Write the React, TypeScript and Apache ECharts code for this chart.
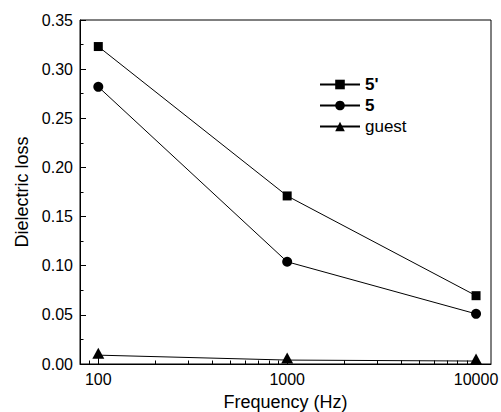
import React, { useEffect, useRef } from "react";
import * as echarts from "echarts";

const frequencies = [100, 1000, 10000];
const series5Prime = [0.323, 0.171, 0.0695];
const series5 = [0.282, 0.104, 0.051];
const seriesGuest = [0.009, 0.004, 0.003];
const xMajorTicks = [100, 1000, 10000];
const xMinorTicks = [90, 200, 300, 400, 500, 600, 700, 800, 900, 2000, 3000, 4000, 5000, 6000, 7000, 8000, 9000];
const legendNames = ["5'", "5", "guest"];

const FONT = "'Liberation Sans', Arial, sans-serif";

export default function App() {
  const ref = useRef<HTMLDivElement>(null);
  useEffect(() => {
    if (!ref.current) return;
    const chart = echarts.init(ref.current, null, { renderer: "svg" });
    const pts = (ys: number[]) => frequencies.map((f, i) => [f, ys[i]]);
    chart.setOption({
      animation: false,
      backgroundColor: "#fff",
      textStyle: { fontFamily: FONT, color: "#000" },
      grid: {
        left: 80,
        top: 20,
        right: 10,
        bottom: 48,
        outerBoundsMode: "none",
        containLabel: false,
        show: true,
        borderColor: "#000",
        borderWidth: 1,
        backgroundColor: "transparent",
      },
      legend: {
        orient: "vertical",
        left: 319,
        top: 76,
        padding: 0,
        itemWidth: 40,
        itemHeight: 12,
        itemGap: 4,
        textStyle: { fontSize: 17, color: "#000", fontFamily: FONT },
        data: [
          { name: legendNames[0], textStyle: { fontWeight: "bold" } },
          { name: legendNames[1], textStyle: { fontWeight: "bold" } },
          { name: legendNames[2] },
        ],
      },
      xAxis: [
        {
          type: "log",
          logBase: 10,
          min: 80,
          max: 12000,
          position: "bottom",
          name: "Frequency (Hz)",
          nameLocation: "middle",
          nameGap: 29,
          nameTextStyle: { fontSize: 18, color: "#000", fontFamily: FONT },
          axisLine: { show: true, onZero: false, lineStyle: { color: "#000", width: 1 } },
          axisTick: { show: true, inside: true, length: 6, customValues: xMajorTicks, lineStyle: { color: "#000", width: 1 } },
          axisLabel: {
            show: true,
            customValues: xMajorTicks,
            fontSize: 16,
            color: "#000",
            margin: 7,
            fontFamily: FONT,
            formatter: (v: number) => String(Math.round(v)),
          },
          splitLine: { show: false },
          minorTick: { show: false },
        },
        {
          type: "log",
          logBase: 10,
          min: 80,
          max: 12000,
          position: "bottom",
          axisLine: { show: false, onZero: false },
          axisTick: { show: true, inside: true, length: 3.5, customValues: xMinorTicks, lineStyle: { color: "#000", width: 1 } },
          axisLabel: { show: false },
          splitLine: { show: false },
        },
      ],
      yAxis: {
        type: "value",
        min: 0,
        max: 0.35,
        interval: 0.05,
        name: "Dielectric loss",
        nameLocation: "middle",
        nameGap: 49,
        nameTextStyle: { fontSize: 18, color: "#000", fontFamily: FONT },
        axisLine: { show: true, lineStyle: { color: "#000", width: 1 } },
        axisTick: { show: true, inside: true, length: 6, lineStyle: { color: "#000" } },
        minorTick: { show: true, splitNumber: 2, length: 3.5, lineStyle: { color: "#000" } },
        axisLabel: {
          fontSize: 16,
          color: "#000",
          margin: 7,
          fontFamily: FONT,
          formatter: (v: number) => v.toFixed(2),
        },
        splitLine: { show: false },
      },
      series: [
        {
          name: legendNames[0],
          type: "line",
          xAxisIndex: 0,
          data: pts(series5Prime),
          symbol: "rect",
          symbolSize: 9,
          itemStyle: { color: "#000" },
          lineStyle: { color: "#000", width: 1 },
        },
        {
          name: legendNames[1],
          type: "line",
          xAxisIndex: 0,
          data: pts(series5),
          symbol: "circle",
          symbolSize: 10,
          itemStyle: { color: "#000" },
          lineStyle: { color: "#000", width: 1 },
        },
        {
          name: legendNames[2],
          type: "line",
          xAxisIndex: 0,
          data: pts(seriesGuest),
          symbol: "triangle",
          symbolSize: [12, 11],
          symbolOffset: [0, -2],
          itemStyle: { color: "#000" },
          lineStyle: { color: "#000", width: 1 },
        },
      ],
    });
    return () => chart.dispose();
  }, []);
  return (
    <div
      ref={ref}
      style={{ position: "fixed", left: 0, top: 0, width: 501, height: 412, background: "#fff" }}
    />
  );
}
